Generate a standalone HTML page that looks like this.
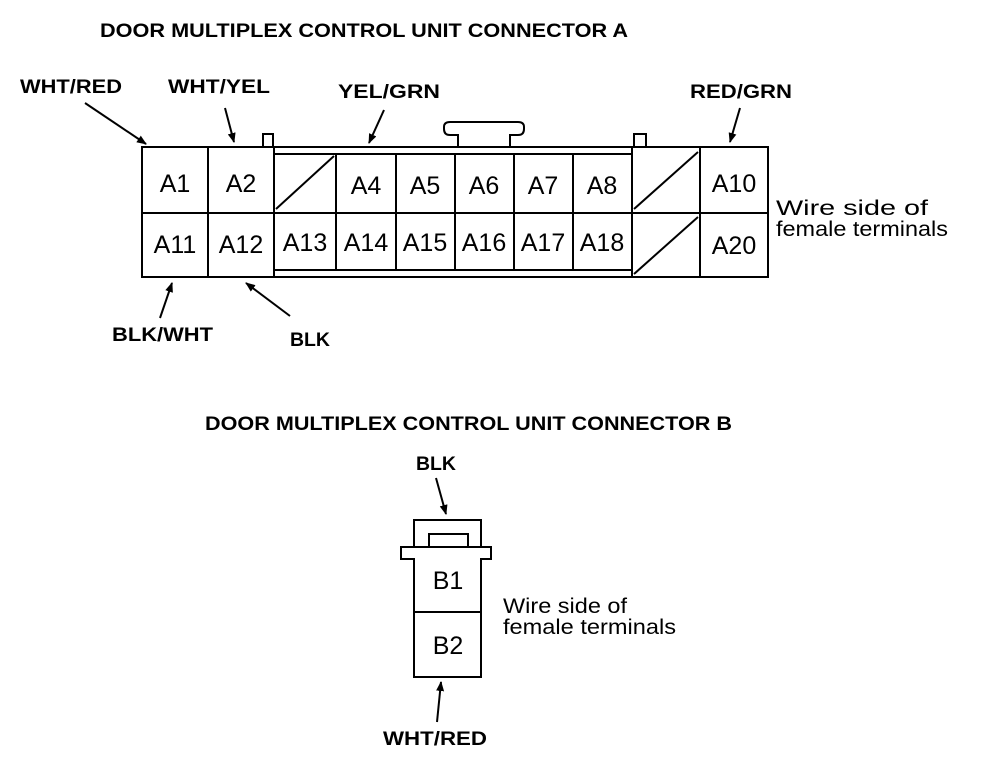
<!DOCTYPE html>
<html><head><style>body{margin:0;background:#fff}</style></head><body>
<svg width="992" height="770" xmlns="http://www.w3.org/2000/svg" font-family="Liberation Sans, sans-serif">
<defs><marker id="a" markerWidth="10" markerHeight="10" refX="9" refY="4" orient="auto" markerUnits="userSpaceOnUse"><path d="M0,0 L10,4 L0,8 z" fill="#000"/></marker></defs>
<g font-weight="bold" font-size="19">
<text x="100" y="37" textLength="528" lengthAdjust="spacingAndGlyphs">DOOR MULTIPLEX CONTROL UNIT CONNECTOR A</text>
<text x="20" y="93" textLength="102" lengthAdjust="spacingAndGlyphs">WHT/RED</text>
<text x="168" y="93" textLength="102" lengthAdjust="spacingAndGlyphs">WHT/YEL</text>
<text x="338" y="98" textLength="102" lengthAdjust="spacingAndGlyphs">YEL/GRN</text>
<text x="690" y="98" textLength="102" lengthAdjust="spacingAndGlyphs">RED/GRN</text>
<text x="112" y="341" textLength="101" lengthAdjust="spacingAndGlyphs">BLK/WHT</text>
<text x="290" y="346" textLength="40" lengthAdjust="spacingAndGlyphs">BLK</text>
<text x="205" y="430" textLength="527" lengthAdjust="spacingAndGlyphs">DOOR MULTIPLEX CONTROL UNIT CONNECTOR B</text>
<text x="416" y="470" textLength="40" lengthAdjust="spacingAndGlyphs">BLK</text>
<text x="383" y="745" textLength="104" lengthAdjust="spacingAndGlyphs">WHT/RED</text>
</g>
<g stroke="#000" stroke-width="2" marker-end="url(#a)">
<line x1="85" y1="103" x2="146" y2="144"/>
<line x1="225" y1="108" x2="234" y2="142"/>
<line x1="384" y1="110" x2="369" y2="143"/>
<line x1="740" y1="108" x2="730" y2="142"/>
<line x1="160" y1="318" x2="172" y2="283"/>
<line x1="290" y1="316" x2="246" y2="283"/>
<line x1="436" y1="478" x2="446" y2="514"/>
<line x1="437" y1="722" x2="441" y2="682"/>
</g>
<g fill="none" stroke="#000" stroke-width="2">
<rect x="142" y="147" width="626" height="130"/>
<line x1="142" y1="213" x2="768" y2="213"/>
<line x1="208" y1="147" x2="208" y2="277"/>
<line x1="274" y1="147" x2="274" y2="277"/>
<line x1="274" y1="154" x2="632" y2="154"/>
<line x1="274" y1="270" x2="632" y2="270"/>
<line x1="632" y1="147" x2="632" y2="277"/>
<line x1="700" y1="147" x2="700" y2="277"/>
<line x1="336" y1="154" x2="336" y2="270"/><line x1="396" y1="154" x2="396" y2="270"/><line x1="455" y1="154" x2="455" y2="270"/><line x1="514" y1="154" x2="514" y2="270"/><line x1="573" y1="154" x2="573" y2="270"/>
<line x1="276" y1="209" x2="334" y2="156"/>
<line x1="634" y1="209" x2="698" y2="152"/>
<line x1="634" y1="274" x2="698" y2="217"/>
<path d="M263,147 V134 H273 V147"/>
<path d="M634,147 V134 H646 V147"/>
<path d="M458,147 V135 H450 Q444,135 444,129 V127 Q444,122 450,122 H518 Q524,122 524,127 V129 Q524,135 518,135 H510 V147"/>
<path d="M414,547 V520 H481 V547"/>
<path d="M429,547 V534 H468 V547"/>
<path d="M414,559 H401 V547 H491 V559 H481 V677 H414 Z"/>
<line x1="414" y1="612" x2="481" y2="612"/>
</g>
<g font-size="25" text-anchor="middle">
<text x="175" y="192">A1</text><text x="241" y="192">A2</text>
<text x="366" y="194">A4</text><text x="425" y="194">A5</text><text x="484" y="194">A6</text><text x="543" y="194">A7</text><text x="602" y="194">A8</text><text x="734" y="192">A10</text>
<text x="175" y="253">A11</text><text x="241" y="253">A12</text><text x="305" y="251">A13</text><text x="366" y="251">A14</text><text x="425" y="251">A15</text><text x="484" y="251">A16</text><text x="543" y="251">A17</text><text x="602" y="251">A18</text><text x="734" y="254">A20</text>
<text x="448" y="589">B1</text><text x="448" y="654">B2</text>
</g>
<g font-size="21">
<text x="776" y="215" textLength="152" lengthAdjust="spacingAndGlyphs">Wire side of</text><text x="776" y="236" textLength="172" lengthAdjust="spacingAndGlyphs">female terminals</text>
<text x="503" y="613" textLength="124" lengthAdjust="spacingAndGlyphs">Wire side of</text><text x="503" y="634" textLength="173" lengthAdjust="spacingAndGlyphs">female terminals</text>
</g>
</svg>
</body></html>
